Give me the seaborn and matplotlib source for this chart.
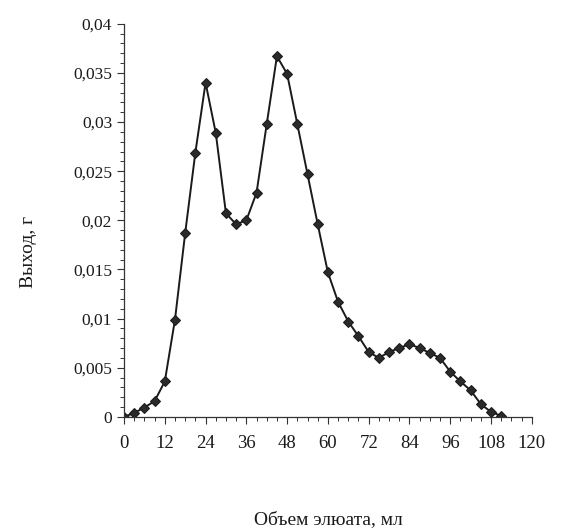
import matplotlib
matplotlib.use("Agg")
import matplotlib.pyplot as plt
import seaborn as sns
import pandas as pd
from matplotlib.ticker import MultipleLocator, FuncFormatter

# --- DATA ---
volume_ml = [0, 3, 6, 9, 12, 15, 18, 21, 24, 27, 30, 33, 36, 39, 42, 45, 48, 51, 54,
             57, 60, 63, 66, 69, 72, 75, 78, 81, 84, 87, 90, 93, 96, 99, 102, 105, 108, 111]
yield_g = [0.0, 0.0004, 0.00095, 0.0016, 0.0036, 0.0099, 0.0187, 0.0269, 0.0340, 0.0289,
           0.0207, 0.0196, 0.0200, 0.0228, 0.0298, 0.0367, 0.0349, 0.0298, 0.0247, 0.0196,
           0.0147, 0.0117, 0.0097, 0.0082, 0.0066, 0.0060, 0.0066, 0.0070, 0.0074, 0.0070,
           0.0065, 0.0060, 0.0046, 0.0036, 0.0027, 0.0013, 0.0005, 0.0001]
x_ticks = [0, 12, 24, 36, 48, 60, 72, 84, 96, 108, 120]

df = pd.DataFrame({"volume": volume_ml, "yield": yield_g})

sns.set_style("ticks")
plt.rcParams["font.family"] = ["Liberation Serif", "DejaVu Serif"]

fig = plt.figure(figsize=(5.85, 5.29), dpi=100)
ax = fig.add_axes([0.212, 0.212, 0.697, 0.743])

sns.lineplot(data=df, x="volume", y="yield", ax=ax, color="#1a1a1a",
             linewidth=1.4, marker="D", markersize=5, markeredgecolor="#1a1a1a",
             markerfacecolor="#2a2a2a")

ax.set_xlim(0, 120)
ax.set_ylim(0, 0.04)
ax.set_xticks(x_ticks)
ax.xaxis.set_minor_locator(MultipleLocator(3))
ax.yaxis.set_major_locator(MultipleLocator(0.005))
ax.yaxis.set_minor_locator(MultipleLocator(0.001))


def comma_fmt(v, pos):
    if abs(v) < 1e-12:
        return "0"
    s = f"{v:.3f}".rstrip("0")
    return s.replace(".", ",")


ax.yaxis.set_major_formatter(FuncFormatter(comma_fmt))
ax.tick_params(axis="both", which="major", labelsize=12.5, length=5, width=0.8,
               color="#333333", labelcolor="#1a1a1a")
ax.tick_params(axis="both", which="minor", length=3, width=0.7, color="#333333")
ax.tick_params(axis="x", which="major", pad=8, labelsize=13.5)

sns.despine(ax=ax)
for sp in ("left", "bottom"):
    ax.spines[sp].set_linewidth(0.9)
    ax.spines[sp].set_color("#333333")

ax.set_xlabel("Объем элюата, мл", fontsize=14, color="#1a1a1a", va="center")
ax.set_ylabel("Выход, г", fontsize=14, color="#1a1a1a", va="center")
ax.xaxis.set_label_coords(0.5, -0.262)
ax.yaxis.set_label_coords(-0.235, 0.42)

fig.savefig("out.png", dpi=100)
